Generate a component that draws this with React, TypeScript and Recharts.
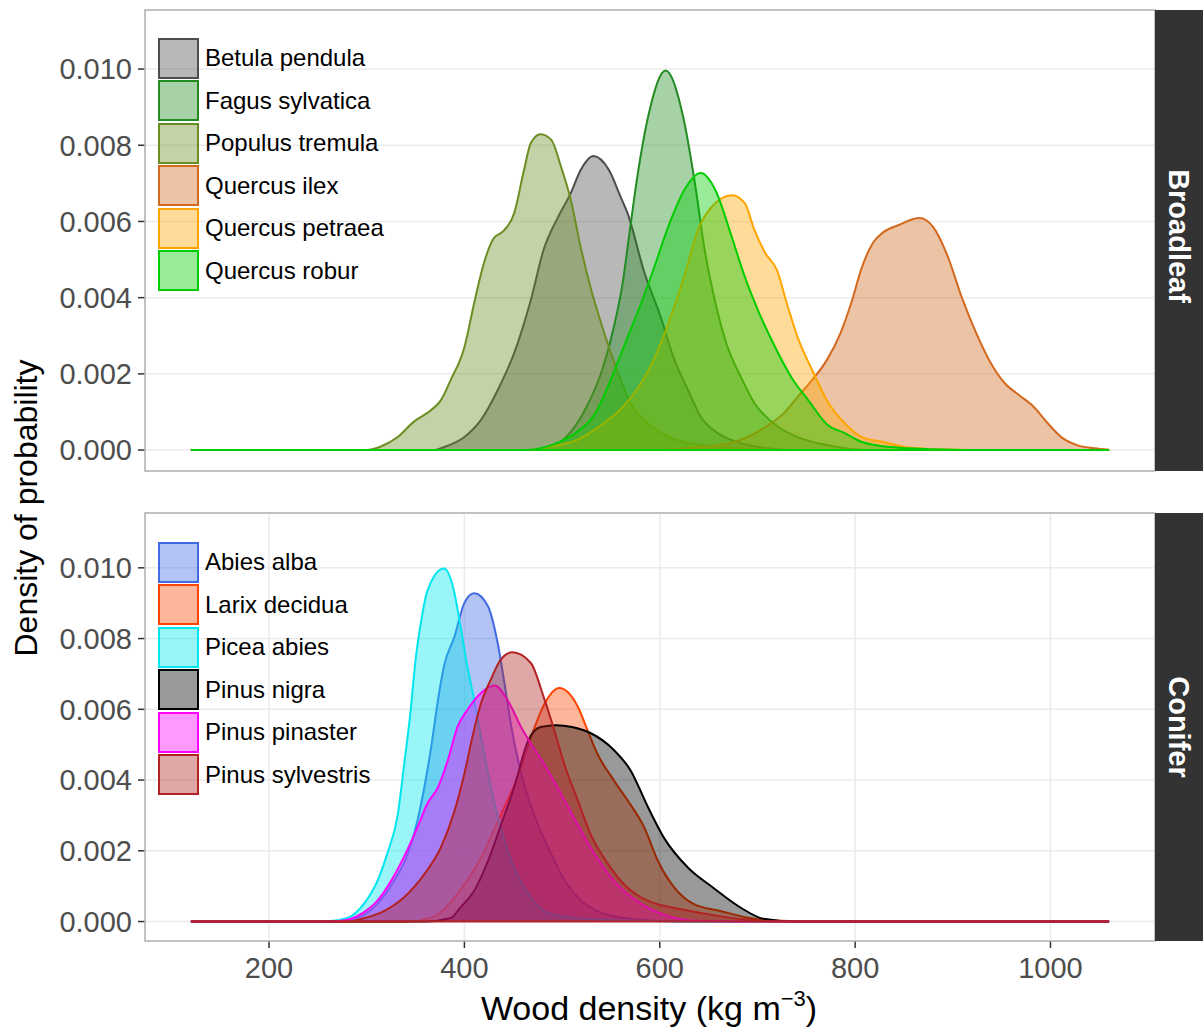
import React from 'react';
import { AreaChart, Area, XAxis, YAxis, CartesianGrid, ReferenceLine } from 'recharts';

type Pt = [number, number];

const xTicks = [200, 400, 600, 800, 1000];
const yTicks = [0, 0.002, 0.004, 0.006, 0.008, 0.01];

// Broadleaf densities (wood density, probability density)
const betulaPendula: Pt[] = [
  [120, 0], [370, 0], [376, 0.00005], [400, 0.00034], [417, 0.00079], [434, 0.00157], [451, 0.00255],
  [468, 0.00394], [481, 0.00525], [496, 0.00612], [509, 0.00675], [519, 0.00735], [532, 0.00772],
  [548, 0.00735], [560, 0.00664], [567, 0.00622], [584, 0.00468], [601, 0.00349], [614, 0.00244],
  [629, 0.00157], [642, 0.00087], [659, 0.00045], [683, 0.00018], [710, 0.00005], [740, 0], [1060, 0],
];
const fagusSylvatica: Pt[] = [
  [120, 0], [470, 0], [490, 0.0001], [508, 0.00045], [525, 0.00113], [541, 0.0021], [553, 0.00323],
  [562, 0.00438], [569, 0.0057], [577, 0.00717], [588, 0.00874], [606, 0.00996], [624, 0.00874],
  [636, 0.007], [646, 0.00525], [657, 0.00386], [668, 0.00281], [683, 0.00192], [697, 0.00123],
  [716, 0.00071], [741, 0.00034], [771, 0.00013], [810, 0], [1060, 0],
];
const populusTremula: Pt[] = [
  [120, 0], [300, 0], [315, 0.0001], [332, 0.00035], [348, 0.00074], [366, 0.00105], [376, 0.00131],
  [386, 0.00184], [400, 0.0027], [410, 0.00386], [420, 0.00491], [430, 0.00556], [440, 0.00575],
  [451, 0.00622], [461, 0.00735], [468, 0.00806], [478, 0.00829], [489, 0.00814], [499, 0.00743],
  [509, 0.00656], [519, 0.00533], [529, 0.00428], [540, 0.00333], [550, 0.00255], [560, 0.00184],
  [570, 0.00123], [584, 0.00079], [601, 0.00045], [642, 0.00013], [693, 0.00003], [730, 0], [1060, 0],
];
const quercusIlex: Pt[] = [
  [120, 0], [600, 0], [625, 0.00005], [661, 0.00013], [687, 0.00031], [708, 0.0006], [727, 0.00097],
  [741, 0.00139], [756, 0.00184], [771, 0.00236], [785, 0.00307], [796, 0.00386], [807, 0.0048],
  [818, 0.00543], [829, 0.00572], [844, 0.0059], [866, 0.00609], [880, 0.00585], [895, 0.00507],
  [909, 0.00402], [924, 0.00307], [939, 0.00228], [953, 0.00176], [968, 0.00144], [983, 0.00113],
  [997, 0.00071], [1011, 0.00034], [1027, 0.00013], [1045, 0.00005], [1060, 0.00001],
];
const quercusPetraea: Pt[] = [
  [120, 0], [470, 0], [490, 0.0001], [515, 0.00026], [537, 0.0006], [559, 0.00105], [581, 0.00176],
  [595, 0.00244], [610, 0.00341], [625, 0.00455], [639, 0.00577], [653, 0.00638], [674, 0.00669],
  [687, 0.00648], [697, 0.00577], [708, 0.00517], [720, 0.00472], [730, 0.00386], [741, 0.00297],
  [756, 0.0021], [771, 0.00131], [789, 0.00071], [807, 0.00034], [829, 0.00021], [851, 0.00008],
  [880, 0.00002], [920, 0], [1060, 0],
];
const quercusRobur: Pt[] = [
  [120, 0], [460, 0], [478, 0.00005], [497, 0.00021], [514, 0.00045], [536, 0.00105], [551, 0.00192],
  [566, 0.00289], [581, 0.00386], [593, 0.0047], [610, 0.00595], [625, 0.00682], [642, 0.00727],
  [657, 0.00682], [673, 0.00565], [687, 0.00455], [702, 0.00358], [716, 0.00281], [735, 0.0019],
  [752, 0.00131], [771, 0.00068], [789, 0.00045], [807, 0.00021], [836, 0.00008], [880, 0.00002],
  [920, 0], [1060, 0],
];

// Conifer densities
const abiesAlba: Pt[] = [
  [120, 0], [270, 0], [291, 0.00011], [311, 0.0005], [328, 0.00115], [342, 0.00192], [352, 0.00286],
  [359, 0.0038], [366, 0.00494], [373, 0.00627], [379, 0.00721], [390, 0.00807], [400, 0.00901],
  [410, 0.00928], [424, 0.00892], [434, 0.00788], [441, 0.00674], [448, 0.00551], [458, 0.0042],
  [473, 0.0029], [489, 0.0019], [504, 0.0011], [519, 0.0006], [540, 0.00025], [570, 0.00008],
  [620, 0], [1060, 0],
];
const larixDecidua: Pt[] = [
  [120, 0], [340, 0], [366, 0.0001], [381, 0.0004], [396, 0.0009], [417, 0.0018], [437, 0.003],
  [453, 0.004], [468, 0.0052], [481, 0.0061], [497, 0.0066], [516, 0.00608], [526, 0.00541],
  [536, 0.00475], [553, 0.00399], [567, 0.00343], [584, 0.00267], [598, 0.00172], [615, 0.00096],
  [635, 0.00049], [662, 0.0003], [690, 0.00011], [724, 0.00002], [760, 0], [1060, 0],
];
const piceaAbies: Pt[] = [
  [120, 0], [240, 0], [260, 0.00001], [281, 0.00011], [297, 0.0005], [311, 0.00115], [321, 0.00192],
  [332, 0.00306], [338, 0.00437], [345, 0.00598], [350, 0.0074], [356, 0.00854], [362, 0.00934],
  [379, 0.00998], [389, 0.00939], [396, 0.00835], [403, 0.00721], [410, 0.00627], [417, 0.00522],
  [427, 0.0038], [437, 0.00267], [451, 0.00153], [468, 0.00068], [489, 0.00021], [540, 0.00005],
  [591, 0.00002], [640, 0], [1060, 0],
];
const pinusNigra: Pt[] = [
  [120, 0], [360, 0], [386, 0.0001], [396, 0.0004], [410, 0.00087], [424, 0.0017], [437, 0.0027],
  [451, 0.0038], [465, 0.0051], [478, 0.0055], [494, 0.00555], [510, 0.0055], [529, 0.00533],
  [553, 0.00485], [570, 0.00428], [588, 0.00323], [604, 0.00238], [629, 0.00152], [655, 0.00095],
  [683, 0.00039], [706, 0.00008], [740, 0], [1060, 0],
];
const pinusPinaster: Pt[] = [
  [120, 0], [260, 0], [274, 0.00002], [294, 0.00021], [311, 0.00059], [325, 0.00115], [338, 0.00182],
  [352, 0.00267], [362, 0.00333], [373, 0.0038], [383, 0.00456], [393, 0.00551], [403, 0.00598],
  [417, 0.00646], [431, 0.00667], [444, 0.00627], [458, 0.0055], [485, 0.0043], [509, 0.0031],
  [529, 0.0021], [553, 0.00115], [581, 0.0005], [608, 0.00016], [639, 0.00002], [680, 0], [1060, 0],
];
const pinusSylvestris: Pt[] = [
  [120, 0], [280, 0], [294, 0.00007], [318, 0.0003], [338, 0.00068], [359, 0.00134], [376, 0.0021],
  [389, 0.00305], [400, 0.00418], [409, 0.00532], [417, 0.00617], [427, 0.00684], [437, 0.0074],
  [449, 0.00761], [468, 0.00731], [481, 0.00636], [492, 0.00541], [502, 0.00447], [516, 0.00343],
  [529, 0.00248], [547, 0.00163], [563, 0.00106], [581, 0.00068], [598, 0.00049], [622, 0.00035],
  [649, 0.00021], [683, 0.00007], [720, 0], [1060, 0],
];

const broadleafNames = ['Betula pendula', 'Fagus sylvatica', 'Populus tremula', 'Quercus ilex', 'Quercus petraea', 'Quercus robur'];
const broadleafColours = ['#4d4d4d', '#228b22', '#6b8e23', '#d2691e', '#ffa500', '#00cd00'];
const broadleafData = [betulaPendula, fagusSylvatica, populusTremula, quercusIlex, quercusPetraea, quercusRobur];

const coniferNames = ['Abies alba', 'Larix decidua', 'Picea abies', 'Pinus nigra', 'Pinus pinaster', 'Pinus sylvestris'];
const coniferColours = ['#4169e1', '#ff4500', '#00e5ee', '#000000', '#ff00ff', '#b22222'];
const coniferData = [abiesAlba, larixDecidua, piceaAbies, pinusNigra, pinusPinaster, pinusSylvestris];

const FONT = '"Liberation Sans", Arial, Helvetica, sans-serif';

const withAlpha = (hex: string, a: number) => {
  const n = parseInt(hex.slice(1), 16);
  return `rgba(${(n >> 16) & 255}, ${(n >> 8) & 255}, ${n & 255}, ${a})`;
};

type PanelProps = {
  names: string[];
  colours: string[];
  data: Pt[][];
  height: number;
  bottom: number;
  showX: boolean;
};

const Panel = ({ names, colours, data, height, bottom, showX }: PanelProps) => (
  <AreaChart width={1203} height={height} margin={{ top: 10, right: 48, bottom, left: 0 }}>
    <CartesianGrid stroke="#ebebeb" strokeWidth={1.5} />
    <XAxis
      type="number"
      dataKey="x"
      domain={[73, 1107]}
      ticks={xTicks}
      allowDataOverflow
      height={showX ? 50 : 0}
      tick={showX ? { fill: '#4d4d4d', fontSize: 29 } : false}
      tickLine={showX ? { stroke: '#333', strokeWidth: 1.5 } : false}
      tickSize={7}
      tickMargin={9}
      axisLine={false}
    />
    <YAxis
      type="number"
      domain={[-0.00055, 0.01155]}
      ticks={yTicks}
      allowDataOverflow
      width={145}
      tickFormatter={(v: number) => v.toFixed(3)}
      tick={{ fill: '#4d4d4d', fontSize: 29 }}
      tickLine={{ stroke: '#333', strokeWidth: 1.5 }}
      tickSize={7}
      tickMargin={6}
      axisLine={false}
    />
    {data.map((pts, i) => (
      <Area
        key={names[i]}
        name={names[i]}
        data={pts.map(([x, y]) => ({ x, y }))}
        dataKey="y"
        type="monotone"
        baseValue={0}
        stroke={colours[i]}
        strokeWidth={2}
        fill={colours[i]}
        fillOpacity={0.4}
        dot={false}
        activeDot={false}
        isAnimationActive={false}
      />
    ))}
    <ReferenceLine
      segment={[{ x: 120, y: 0 }, { x: 1060, y: 0 }]}
      stroke={colours[colours.length - 1]}
      strokeWidth={2}
    />
  </AreaChart>
);

const KeyList = ({ names, colours, top }: { names: string[]; colours: string[]; top: number }) => (
  <div style={{ position: 'absolute', left: 158, top, pointerEvents: 'none' }}>
    {names.map((n, i) => (
      <div key={n} style={{ display: 'flex', alignItems: 'center', height: 42.5 }}>
        <div
          style={{
            width: 41,
            height: 41,
            boxSizing: 'border-box',
            border: `2px solid ${colours[i]}`,
            background: withAlpha(colours[i], 0.4),
          }}
        />
        <span style={{ marginLeft: 6, fontSize: 24, color: '#000', whiteSpace: 'nowrap' }}>{n}</span>
      </div>
    ))}
  </div>
);

export default function App() {
  return (
    <div style={{ position: 'absolute', left: 0, top: 0, width: 1203, height: 1036, background: '#fff', fontFamily: FONT }}>
      <div style={{ position: 'absolute', left: 0, top: 0 }}>
        <Panel names={broadleafNames} colours={broadleafColours} data={broadleafData} height={480} bottom={9} showX={false} />
      </div>
      <div style={{ position: 'absolute', left: 0, top: 503 }}>
        <Panel names={coniferNames} colours={coniferColours} data={coniferData} height={533} bottom={45} showX />
      </div>
      <svg width={1203} height={1036} style={{ position: 'absolute', left: 0, top: 0, pointerEvents: 'none' }} fontFamily={FONT}>
        <rect x={145} y={10} width={1010} height={461} fill="none" stroke="#b3b3b3" strokeWidth={1.5} />
        <rect x={145} y={513} width={1010} height={428} fill="none" stroke="#b3b3b3" strokeWidth={1.5} />
        <rect x={1155} y={10} width={48} height={461} fill="#333333" />
        <rect x={1155} y={513} width={48} height={428} fill="#333333" />
        <text transform="translate(1179,236) rotate(90)" textAnchor="middle" dominantBaseline="central" fill="#fff" fontSize={29} fontWeight="bold">
          Broadleaf
        </text>
        <text transform="translate(1179,727) rotate(90)" textAnchor="middle" dominantBaseline="central" fill="#fff" fontSize={29} fontWeight="bold">
          Conifer
        </text>
        <text transform="translate(37,508) rotate(-90)" textAnchor="middle" fill="#000" fontSize={32}>
          Density of probability
        </text>
        <text x={649} y={1020} textAnchor="middle" fill="#000" fontSize={34}>
          Wood density (kg m
          <tspan dy={-14} fontSize={22}>−3</tspan>
          <tspan dy={14}>)</tspan>
        </text>
      </svg>
      <KeyList names={broadleafNames} colours={broadleafColours} top={37} />
      <KeyList names={coniferNames} colours={coniferColours} top={541} />
    </div>
  );
}
